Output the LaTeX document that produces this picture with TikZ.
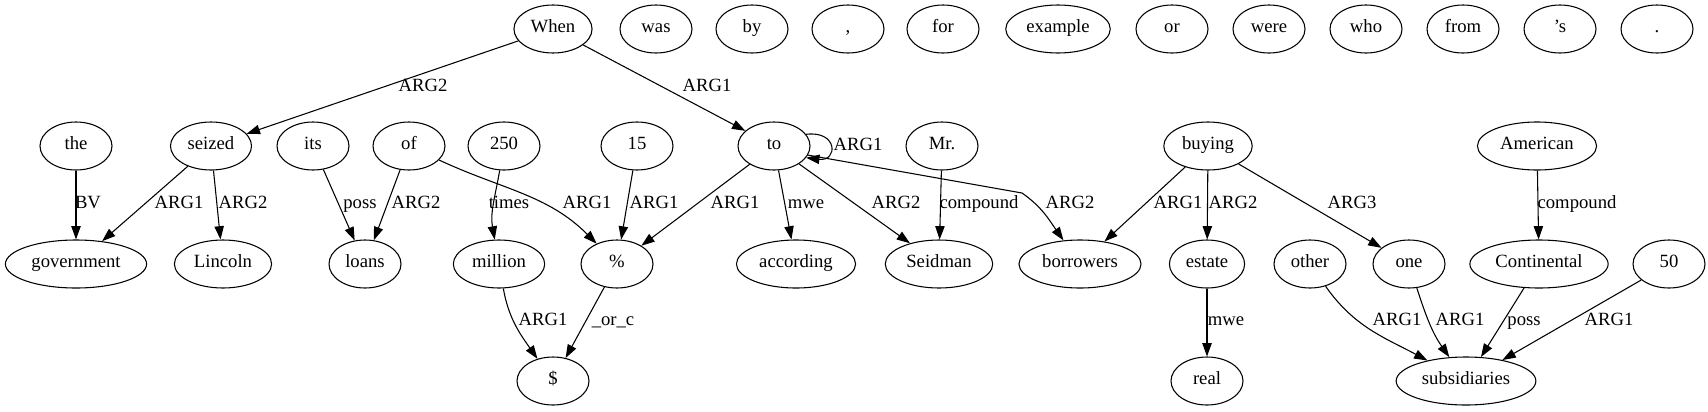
\documentclass[tikz,border=0pt]{standalone}
\usepackage{fontspec}
\setmainfont{Liberation Serif}
\usepackage{tikz}
\usetikzlibrary{shapes.geometric, arrows.meta, positioning}

\begin{document}
\begin{tikzpicture}[x=0.75pt, y=-0.75pt,
  tok/.style={ellipse, draw, line width=0.8pt, minimum width=54pt, minimum height=36pt, inner xsep=4pt, inner ysep=2pt, text height=8.5pt, text depth=3pt, font=\fontsize{14}{16}\selectfont},
  rel/.style={inner sep=0pt, text height=8.5pt, text depth=3pt, font=\fontsize{14}{16}\selectfont},
  dep/.style={-{Triangle[length=10pt, width=7pt]}, line width=0.8pt}]

  \useasboundingbox (0,0) rectangle (1708,411);

  % Top row
  \node[tok] (When) at (553,29) {When};
  \node[tok] (was) at (656,29) {was};
  \node[tok] (by) at (752,29) {by};
  \node[tok] (comma) at (848,29) {,};
  \node[tok] (for) at (943,29) {for};
  \node[tok] (example) at (1058,29) {example};
  \node[tok] (or) at (1172,29) {or};
  \node[tok] (were) at (1269,29) {were};
  \node[tok] (who) at (1366,29) {who};
  \node[tok] (from) at (1463,29) {from};
  \node[tok] (apos) at (1560,29) {’s};
  \node[tok] (period) at (1657,29) {.};

  % Second row
  \node[tok] (the) at (76,146) {the};
  \node[tok] (seized) at (211,146) {seized};
  \node[tok] (its) at (313,146) {its};
  \node[tok] (of) at (409,146) {of};
  \node[tok] (N250) at (504,146) {250};
  \node[tok] (N15) at (637,146) {15};
  \node[tok] (to) at (774,146) {to};
  \node[tok] (Mr) at (942,146) {Mr.};
  \node[tok] (buying) at (1208,146) {buying};
  \node[tok] (American) at (1537,146) {American};

  % Third row
  \node[tok] (government) at (76,264) {government};
  \node[tok] (Lincoln) at (223,264) {Lincoln};
  \node[tok] (loans) at (365,264) {loans};
  \node[tok] (million) at (499,264) {million};
  \node[tok] (pct) at (617,264) {\%};
  \node[tok] (according) at (796,264) {according};
  \node[tok] (Seidman) at (939,264) {Seidman};
  \node[tok] (borrowers) at (1080,264) {borrowers};
  \node[tok] (estate) at (1207,264) {estate};
  \node[tok] (other) at (1310,264) {other};
  \node[tok] (one) at (1409,264) {one};
  \node[tok] (Continental) at (1539,264) {Continental};
  \node[tok] (N50) at (1669,264) {50};

  % Bottom row
  \node[tok] (dollar) at (553,381) {\$};
  \node[tok] (real) at (1207,381) {real};
  \node[tok] (subsidiaries) at (1466,381) {subsidiaries};

  \coordinate (bend) at (1022,193);

  % Edges
  \draw[dep] (When) -- (seized);
  \draw[dep] (When) -- (to);
  \draw[dep] (the) -- (government);
  \draw[dep] (seized) -- (government);
  \draw[dep] (seized) -- (Lincoln);
  \draw[dep] (its) -- (loans);
  \draw[dep] (of) -- (loans);
  \draw[dep] (of) to[out=-25, in=135] (pct);
  \draw[dep] (N250) to[out=-100, in=100] (million);
  \draw[dep] (N15) -- (pct);
  \draw[dep] (to) -- (pct);
  \draw[dep] (to) -- (according);
  \draw[dep] (to) -- (Seidman);
  \draw[dep] (to.20) .. controls +(32,-4) and +(32,4) .. (to.-20);
  \draw[dep] (to.-15) -- (bend) to[out=-35, in=125] (borrowers);
  \draw[dep] (Mr) -- (Seidman);
  \draw[dep] (buying) -- (borrowers);
  \draw[dep] (buying) -- (estate);
  \draw[dep] (buying) -- (one);
  \draw[dep] (American) -- (Continental);
  \draw[dep] (million) to[out=-80, in=125] (dollar);
  \draw[dep] (pct) -- (dollar);
  \draw[dep] (estate) -- (real);
  \draw[dep] (other) to[out=-55, in=152] (subsidiaries);
  \draw[dep] (one) to[out=-72, in=125] (subsidiaries);
  \draw[dep] (Continental) -- (subsidiaries);
  \draw[dep] (N50) -- (subsidiaries);

  % Edge labels
  \node[rel] (rWhenSeized) at (423,88) {ARG2};
  \node[rel] (rWhenTo) at (707,88) {ARG1};
  \node[rel] (rTheGov) at (88,205) {BV};
  \node[rel] (rSeizedGov) at (179,205) {ARG1};
  \node[rel] (rSeizedLin) at (243,205) {ARG2};
  \node[rel] (rItsLoans) at (360,205) {poss};
  \node[rel] (rOfLoans) at (416,205) {ARG2};
  \node[rel] (rTimes) at (509,205) {times};
  \node[rel] (rOfPct) at (587,205) {ARG1};
  \node[rel] (rFifteen) at (654,205) {ARG1};
  \node[rel] (rToPct) at (735,205) {ARG1};
  \node[rel] (rToAcc) at (806,205) {mwe};
  \node[rel] (rToSeid) at (896,205) {ARG2};
  \node[rel] (rToTo) at (858,147) {ARG1};
  \node[rel] (rMr) at (979,205) {compound};
  \node[rel] (rToBorr) at (1070,205) {ARG2};
  \node[rel] (rBuyBorr) at (1178,205) {ARG1};
  \node[rel] (rBuyEst) at (1233,205) {ARG2};
  \node[rel] (rBuyOne) at (1352,205) {ARG3};
  \node[rel] (rAmer) at (1577,205) {compound};
  \node[rel] (rMillion) at (543,322) {ARG1};
  \node[rel] (rOrC) at (613,322) {\_or\_c};
  \node[rel] (rReal) at (1226,322) {mwe};
  \node[rel] (rOther) at (1397,322) {ARG1};
  \node[rel] (rOne) at (1460,322) {ARG1};
  \node[rel] (rCont) at (1524,322) {poss};
  \node[rel] (rFifty) at (1609,322) {ARG1};

\end{tikzpicture}
\end{document}
